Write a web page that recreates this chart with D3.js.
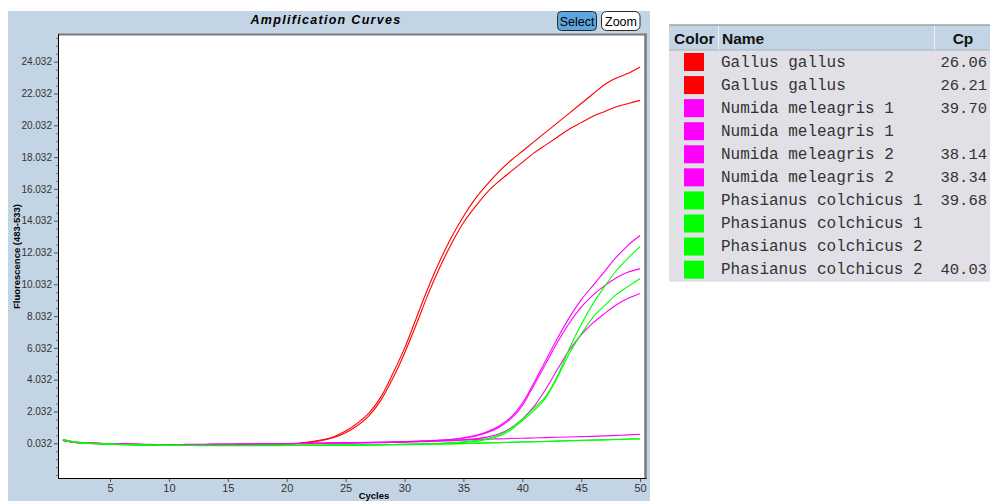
<!DOCTYPE html>
<html><head><meta charset="utf-8">
<script src="https://cdn.jsdelivr.net/npm/d3@7"></script>
<style>body{margin:0;background:#fff;} svg{display:block;}</style>
</head><body><svg id="c" width="990" height="501"></svg>
<script>
const cycles = d3.range(1, 51);
const sampleNames = ["Gallus gallus","Gallus gallus","Numida meleagris 1","Numida meleagris 1","Numida meleagris 2","Numida meleagris 2","Phasianus colchicus 1","Phasianus colchicus 1","Phasianus colchicus 2","Phasianus colchicus 2"];
const sampleColors = ["#ff0000","#ff0000","#ff00ff","#ff00ff","#ff00ff","#ff00ff","#00ff00","#00ff00","#00ff00","#00ff00"];
const cpValues = ["26.06","26.21","39.70","","38.14","38.34","39.68","","","40.03"];

const gallusA = [0.25,0.09,0.04,0.02,0.00,-0.02,-0.03,-0.04,-0.05,-0.06,
 -0.06,-0.06,-0.05,-0.05,-0.05,-0.04,-0.04,-0.03,-0.02,0.00,
 0.04,0.12,0.25,0.45,0.80,1.30,1.95,2.95,4.40,6.00,
 7.90,9.80,11.50,13.00,14.30,15.40,16.30,17.10,17.80,18.40,
 19.00,19.60,20.20,20.80,21.40,22.00,22.60,23.00,23.30,23.70];
const gallusB = [0.24,0.08,0.04,0.01,-0.01,-0.03,-0.04,-0.05,-0.06,-0.06,
 -0.06,-0.06,-0.06,-0.05,-0.05,-0.05,-0.04,-0.04,-0.03,-0.01,
 0.02,0.09,0.21,0.40,0.70,1.15,1.78,2.75,4.10,5.70,
 7.50,9.40,11.10,12.60,13.90,14.90,15.80,16.50,17.10,17.70,
 18.30,18.80,19.30,19.80,20.20,20.60,20.90,21.20,21.40,21.60];
const numida1A = [0.22,0.10,0.05,0.02,0.00,-0.02,-0.04,-0.05,-0.06,-0.06,
 -0.06,-0.05,-0.05,-0.04,-0.04,-0.03,-0.03,-0.02,-0.02,-0.01,
 0.00,0.01,0.02,0.03,0.04,0.05,0.06,0.07,0.08,0.10,
 0.12,0.14,0.17,0.20,0.25,0.31,0.42,0.62,0.98,1.55,
 2.35,3.45,4.70,5.90,6.85,7.60,8.20,8.75,9.15,9.45];
const numida1B = [0.20,0.09,0.05,0.03,0.01,-0.01,-0.02,-0.03,-0.04,-0.04,
 -0.04,-0.03,-0.03,-0.02,-0.02,-0.01,0.00,0.00,0.01,0.02,
 0.03,0.04,0.05,0.06,0.07,0.08,0.09,0.10,0.12,0.14,
 0.16,0.18,0.20,0.22,0.25,0.27,0.29,0.31,0.33,0.35,
 0.37,0.39,0.41,0.43,0.45,0.47,0.50,0.53,0.56,0.60];
const numida2A = [0.24,0.11,0.06,0.03,0.01,-0.01,-0.03,-0.04,-0.05,-0.05,
 -0.05,-0.04,-0.04,-0.03,-0.03,-0.02,-0.02,-0.01,0.00,0.01,
 0.02,0.03,0.04,0.05,0.06,0.07,0.08,0.09,0.11,0.13,
 0.16,0.19,0.23,0.29,0.38,0.52,0.75,1.10,1.65,2.55,
 3.85,5.25,6.65,7.95,9.05,9.95,10.85,11.75,12.50,13.10];
const numida2B = [0.23,0.10,0.05,0.03,0.01,-0.02,-0.03,-0.04,-0.05,-0.05,
 -0.05,-0.04,-0.04,-0.03,-0.03,-0.02,-0.02,-0.01,0.00,0.01,
 0.02,0.03,0.04,0.05,0.06,0.07,0.08,0.09,0.11,0.13,
 0.15,0.18,0.22,0.27,0.35,0.48,0.70,1.03,1.55,2.40,
 3.70,5.05,6.40,7.60,8.60,9.35,9.95,10.45,10.80,11.00];
const phasianus1A = [0.28,0.12,0.05,0.01,-0.02,-0.04,-0.06,-0.08,-0.09,-0.10,
 -0.10,-0.10,-0.10,-0.10,-0.10,-0.10,-0.10,-0.10,-0.10,-0.10,
 -0.10,-0.09,-0.09,-0.08,-0.08,-0.07,-0.06,-0.05,-0.04,-0.03,
 -0.01,0.01,0.04,0.08,0.13,0.20,0.32,0.55,0.95,1.55,
 2.25,3.00,4.30,6.00,7.50,8.80,9.90,10.90,11.70,12.40];
const phasianus1B = [0.26,0.10,0.04,0.00,-0.03,-0.05,-0.07,-0.08,-0.09,-0.10,
 -0.10,-0.11,-0.11,-0.11,-0.11,-0.11,-0.11,-0.11,-0.10,-0.10,
 -0.10,-0.09,-0.09,-0.08,-0.08,-0.07,-0.06,-0.06,-0.05,-0.04,
 -0.03,-0.02,-0.01,0.00,0.02,0.04,0.06,0.08,0.10,0.12,
 0.14,0.16,0.18,0.20,0.22,0.24,0.26,0.28,0.30,0.32];
const phasianus2A = [0.27,0.11,0.05,0.01,-0.02,-0.04,-0.06,-0.08,-0.09,-0.10,
 -0.11,-0.11,-0.12,-0.12,-0.12,-0.12,-0.12,-0.12,-0.12,-0.11,
 -0.11,-0.10,-0.10,-0.09,-0.09,-0.08,-0.08,-0.07,-0.06,-0.05,
 -0.04,-0.03,-0.02,-0.01,0.01,0.03,0.05,0.07,0.09,0.11,
 0.13,0.15,0.17,0.19,0.21,0.23,0.25,0.27,0.29,0.31];
const phasianus2B = [0.25,0.10,0.04,0.00,-0.03,-0.05,-0.07,-0.08,-0.09,-0.10,
 -0.10,-0.11,-0.11,-0.11,-0.11,-0.11,-0.11,-0.10,-0.10,-0.10,
 -0.10,-0.09,-0.09,-0.08,-0.08,-0.07,-0.06,-0.05,-0.04,-0.03,
 -0.02,0.00,0.02,0.05,0.09,0.15,0.27,0.48,0.85,1.45,
 2.10,2.90,4.20,5.70,6.90,7.95,8.70,9.40,9.90,10.40];
const seriesValues = [gallusA,gallusB,numida1A,numida1B,numida2A,numida2B,phasianus1A,phasianus1B,phasianus2A,phasianus2B];

const yTickValues = [0.032,2.032,4.032,6.032,8.032,10.032,12.032,14.032,16.032,18.032,20.032,22.032,24.032];
const yMinorTicks = d3.range(-1.968, 25.6, 0.5);
const xTickValues = [5,10,15,20,25,30,35,40,45,50];

const svg = d3.select("#c");
const L = 58, T = 35, R = 645, B = 478;
const x = d3.scaleLinear().domain([0.58, 50.42]).range([L, R]);
const y = d3.scaleLinear().domain([-2.15, 25.71]).range([B, T]);
const SANS = "Liberation Sans, Arial, sans-serif";

// panel
svg.append("rect").attr("x",8).attr("y",11).attr("width",642).attr("height",490).attr("fill","#c3d4e4");
svg.append("rect").attr("x",L).attr("y",T).attr("width",R-L).attr("height",B-T).attr("fill","#fff");

// title
svg.append("text").attr("x",326).attr("y",24).attr("text-anchor","middle")
  .style("font-family",SANS).style("font-weight","900").style("font-style","italic")
  .style("font-size","12.5px").style("letter-spacing","1.3px").attr("fill","#000").text("Amplification Curves");

// buttons
svg.append("rect").attr("x",557.5).attr("y",11.5).attr("width",39).attr("height",19).attr("rx",4)
  .attr("fill","#5ea6dd").attr("stroke","#2a2a2a");
svg.append("text").attr("x",577).attr("y",25.5).attr("text-anchor","middle")
  .style("font-family",SANS).style("font-size","12.5px").attr("fill","#000").text("Select");
svg.append("rect").attr("x",601.5).attr("y",11.5).attr("width",38.5).attr("height",19).attr("rx",5)
  .attr("fill","#fff").attr("stroke","#2a2a2a");
svg.append("text").attr("x",621).attr("y",25.5).attr("text-anchor","middle")
  .style("font-family",SANS).style("font-size","12.5px").attr("fill","#000").text("Zoom");

// y axis
const yAxis = d3.axisLeft(y).tickValues(yTickValues).tickFormat(d3.format(".3f")).tickSize(4).tickPadding(2);
const gy = svg.append("g").attr("transform",`translate(${L},0)`).call(yAxis);
gy.select(".domain").remove();
gy.selectAll("text").style("font-family",SANS).style("font-size","10px").attr("fill","#333");
gy.selectAll("line").attr("stroke","#555");
const gym = svg.append("g").attr("transform",`translate(${L},0)`)
  .call(d3.axisLeft(y).tickValues(yMinorTicks.filter(v=>!yTickValues.some(t=>Math.abs(t-v)<1e-6))).tickSize(2).tickFormat(""));
gym.select(".domain").remove();
gym.selectAll("line").attr("stroke","#777");

// x axis
const xAxis = d3.axisBottom(x).tickValues(xTickValues).tickSize(4).tickPadding(2);
const gx = svg.append("g").attr("transform",`translate(0,${B})`).call(xAxis);
gx.select(".domain").remove();
gx.selectAll("text").style("font-family",SANS).style("font-size","11px").attr("fill","#333");
gx.selectAll("line").attr("stroke","#555");

// axis titles
svg.append("text").attr("x",374).attr("y",498.5).attr("text-anchor","middle")
  .style("font-family",SANS).style("font-weight","bold").style("font-size","9.5px").text("Cycles");
svg.append("text").attr("transform",`translate(20,${(T+B)/2}) rotate(-90)`).attr("text-anchor","middle")
  .style("font-family",SANS).style("font-weight","bold").style("font-size","9.5px").text("Fluorescence (483-533)");

// curves
svg.append("clipPath").attr("id","pc").append("rect").attr("x",L).attr("y",T).attr("width",R-L).attr("height",B-T);
const line = d3.line().x((d,i)=>x(cycles[i])).y(d=>y(d)).curve(d3.curveMonotoneX);
const gc = svg.append("g").attr("clip-path","url(#pc)");
seriesValues.forEach((vals,k)=>{
  gc.append("path").attr("d",line(vals)).attr("fill","none").attr("stroke",sampleColors[k]).attr("stroke-width",1.1);
});

// frame
svg.append("line").attr("x1",L).attr("x2",R+1.5).attr("y1",T-0.5).attr("y2",T-0.5).attr("stroke","#7b7b7b").attr("stroke-width",2);
svg.append("line").attr("x1",R+0.5).attr("x2",R+0.5).attr("y1",T-1.5).attr("y2",B+1).attr("stroke","#7b7b7b").attr("stroke-width",2.5);
svg.append("line").attr("x1",L+0.5).attr("x2",L+0.5).attr("y1",T-1).attr("y2",B+0.5).attr("stroke","#000").attr("stroke-width",1);
svg.append("line").attr("x1",L).attr("x2",R+1.5).attr("y1",B+0.5).attr("y2",B+0.5).attr("stroke","#000").attr("stroke-width",1.2);

// legend table
const lx = 669, lw = 321, rowH = 23.07, row0 = 61.7;
svg.append("rect").attr("x",lx).attr("y",25).attr("width",lw).attr("height",25).attr("fill","#c3d4e4");
svg.append("line").attr("x1",lx).attr("x2",lx+lw).attr("y1",25).attr("y2",25).attr("stroke","#a3a3a3").attr("stroke-width",1.5);
svg.append("rect").attr("x",lx).attr("y",50).attr("width",lw).attr("height",rowH*10+1).attr("fill","#e1e0e6");
svg.append("line").attr("x1",lx).attr("x2",lx+lw).attr("y1",50).attr("y2",50).attr("stroke","#aab3bd").attr("stroke-width",1);
[718, 934].forEach(sx=>svg.append("line").attr("x1",sx+0.5).attr("x2",sx+0.5).attr("y1",26).attr("y2",50).attr("stroke","#eef2f6").attr("stroke-width",1));
const hf = t=>t.style("font-family",SANS).style("font-weight","bold").style("font-size","15.5px").attr("fill","#111");
hf(svg.append("text").attr("x",674).attr("y",43.5).text("Color"));
hf(svg.append("text").attr("x",722).attr("y",43.5).text("Name"));
hf(svg.append("text").attr("x",963).attr("y",43.5).attr("text-anchor","middle").text("Cp"));
sampleNames.forEach((n,i)=>{
  const cy = row0 + i*rowH;
  svg.append("rect").attr("x",684).attr("y",cy-8.7).attr("width",20).attr("height",18).attr("fill",sampleColors[i]);
  svg.append("text").attr("x",721).attr("y",cy+5).style("font-family","Liberation Mono, Courier New, monospace")
    .style("font-size","16px").attr("fill","#333").text(n);
  svg.append("text").attr("x",987).attr("y",cy+5).attr("text-anchor","end").style("font-family","Liberation Mono, Courier New, monospace")
    .style("font-size","15.5px").attr("fill","#333").text(cpValues[i]);
});
</script></body></html>
